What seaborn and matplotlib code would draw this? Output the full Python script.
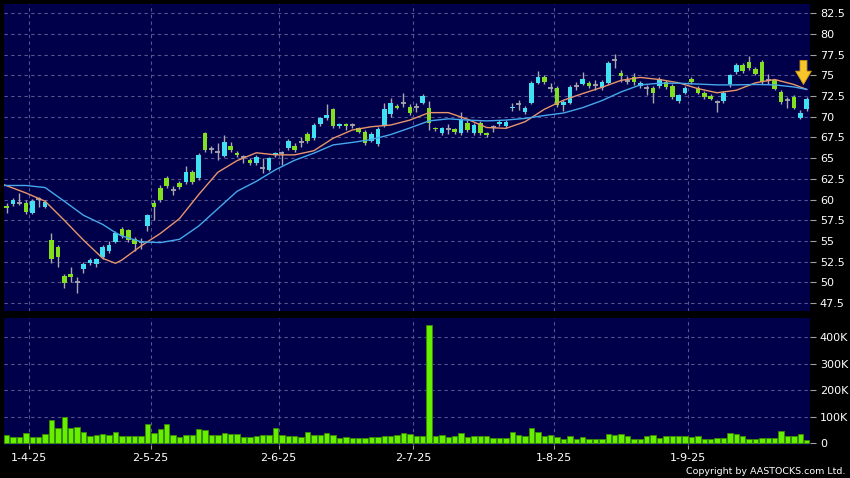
import numpy as np
import pandas as pd
import matplotlib
matplotlib.use('Agg')
import matplotlib.pyplot as plt
import seaborn as sns

# HK trading days shown on the chart
holidays = ['2025-04-04', '2025-04-18', '2025-04-21', '2025-05-01', '2025-05-05', '2025-07-01']
dates = pd.bdate_range('2025-03-26', '2025-09-25').drop(pd.to_datetime(holidays))

opens = [59.2, 59.5, 59.6, 59.6, 58.4, 60.1, 59.1, 55.1, 54.3, 50.75,
         51.0, 50.05, 51.6, 52.35, 52.2, 53.05, 53.8, 54.85, 56.45, 56.3,
         55.2, 54.9, 56.8, 59.6, 61.4, 62.6, 61.15, 62.0, 62.1, 63.3,
         62.6, 68.0, 66.1, 65.7, 65.3, 66.5, 65.6, 65.1, 64.8, 64.4,
         63.8, 63.55, 65.4, 65.6, 66.25, 66.5, 66.95, 67.9, 67.45, 69.1,
         69.8, 70.9, 68.9, 69.1, 69.0, 68.65, 68.2, 67.1, 66.7, 69.0,
         70.3, 71.3, 71.7, 71.2, 71.2, 71.7, 71.05, 68.6, 68.0, 68.5,
         68.5, 68.0, 69.25, 68.0, 69.25, 68.0, 68.75, 69.1, 68.9, 71.05,
         71.6, 70.55, 71.7, 74.1, 74.8, 73.5, 73.5, 71.4, 71.7, 73.7,
         74.0, 74.1, 73.8, 73.5, 74.1, 76.9, 75.3, 74.3, 74.8, 73.7,
         73.5, 73.5, 73.7, 74.2, 73.7, 71.9, 72.9, 74.55, 73.5, 72.9,
         72.5, 71.8, 71.9, 74.0, 75.4, 76.3, 76.6, 75.8, 76.6, 74.4,
         74.4, 73.0, 72.0, 72.4, 69.9, 70.9]
highs = [59.6, 60.2, 60.8, 60.0, 60.1, 60.3, 59.9, 55.95, 54.5, 51.0,
         51.85, 50.65, 52.5, 52.9, 53.0, 54.5, 55.0, 56.2, 56.7, 56.5,
         55.5, 55.35, 58.3, 60.0, 61.7, 62.9, 61.65, 62.3, 64.0, 63.6,
         65.6, 68.2, 66.5, 66.85, 67.8, 66.9, 65.9, 65.4, 65.0, 65.4,
         65.0, 65.2, 65.8, 65.9, 67.3, 66.8, 67.5, 68.2, 69.2, 70.0,
         71.6, 71.1, 69.3, 69.3, 69.3, 68.8, 68.4, 68.1, 68.8, 71.7,
         72.3, 71.6, 72.9, 71.5, 71.7, 72.8, 71.9, 68.8, 68.8, 69.1,
         68.7, 70.6, 69.6, 69.2, 69.5, 68.2, 69.0, 69.6, 69.6, 71.7,
         72.0, 71.3, 74.3, 75.5, 75.0, 74.1, 73.7, 72.0, 73.8, 74.2,
         75.4, 74.3, 74.4, 74.4, 76.7, 77.6, 75.7, 74.9, 75.3, 74.3,
         73.8, 73.7, 74.8, 74.4, 73.9, 72.8, 73.7, 74.8, 73.7, 73.1,
         72.7, 72.0, 73.1, 75.2, 76.5, 76.5, 77.3, 76.0, 76.8, 75.2,
         74.6, 73.2, 72.4, 72.6, 70.8, 72.4]
lows = [58.4, 59.2, 59.3, 58.3, 58.2, 59.1, 59.0, 52.3, 51.85, 49.3,
        50.05, 48.7, 51.1, 52.1, 51.9, 52.8, 53.6, 54.7, 55.4, 54.9,
        53.8, 54.0, 56.2, 57.5, 59.7, 61.4, 60.55, 61.3, 61.9, 61.9,
        62.4, 65.8, 65.6, 64.8, 65.1, 65.8, 65.1, 64.4, 64.2, 64.2,
        63.2, 63.4, 65.2, 64.2, 66.0, 65.8, 66.3, 66.8, 67.2, 68.9,
        69.6, 68.7, 68.7, 68.4, 68.7, 68.0, 66.6, 66.9, 66.5, 68.8,
        70.0, 70.9, 71.2, 70.2, 70.6, 71.5, 68.4, 68.3, 67.8, 67.9,
        67.9, 67.8, 68.2, 67.8, 67.8, 67.55, 68.1, 68.9, 68.7, 70.7,
        70.8, 70.3, 71.5, 73.9, 74.0, 73.0, 71.2, 70.7, 71.5, 73.2,
        73.8, 73.5, 73.2, 73.2, 73.9, 75.9, 74.2, 73.95, 73.8, 73.5,
        72.6, 71.7, 73.5, 73.4, 72.2, 71.7, 72.7, 74.0, 72.7, 72.2,
        72.0, 70.6, 71.7, 73.6, 75.2, 75.3, 75.7, 75.0, 74.0, 73.95,
        73.2, 71.6, 71.1, 70.9, 69.7, 70.7]
closes = [59.0, 59.95, 59.6, 58.5, 59.8, 60.1, 59.7, 52.8, 53.05, 49.9,
          50.65, 50.05, 52.2, 52.7, 52.8, 54.25, 54.5, 55.95, 55.6, 55.1,
          54.6, 54.9, 58.1, 59.1, 59.95, 61.6, 61.15, 61.5, 63.3, 62.1,
          65.4, 66.0, 66.1, 65.7, 66.95, 66.0, 65.4, 65.1, 64.4, 65.2,
          63.8, 65.0, 65.6, 65.6, 67.05, 66.0, 66.95, 67.1, 69.0, 69.8,
          70.2, 68.9, 69.1, 68.9, 69.0, 68.2, 66.85, 67.9, 68.5, 70.9,
          71.7, 71.1, 71.7, 70.5, 71.2, 72.5, 69.25, 68.5, 68.6, 68.5,
          68.15, 69.6, 68.4, 69.0, 68.0, 67.8, 68.75, 69.4, 69.4, 71.2,
          71.6, 71.1, 74.1, 74.8, 74.2, 73.5, 71.4, 71.8, 73.6, 73.7,
          74.6, 73.7, 73.8, 74.2, 76.5, 76.9, 74.9, 74.3, 74.2, 74.1,
          73.5, 72.9, 74.6, 73.6, 72.4, 72.6, 73.5, 74.2, 72.9, 72.4,
          72.2, 71.8, 72.9, 75.0, 76.3, 75.5, 75.9, 75.2, 74.2, 74.4,
          73.4, 71.8, 72.0, 71.1, 70.5, 72.2]
volume_k = [31, 24, 24, 40, 24, 22, 35, 88, 56, 99,
            59, 60, 42, 29, 31, 36, 32, 41, 29, 29,
            29, 29, 72, 40, 55, 72, 33, 24, 33, 33,
            55, 51, 31, 33, 40, 36, 36, 23, 22, 26,
            31, 31, 58, 33, 28, 28, 23, 41, 33, 32,
            37, 32, 19, 24, 21, 19, 19, 22, 22, 29,
            29, 32, 38, 36, 27, 27, 446, 29, 32, 22,
            26, 40, 24, 26, 26, 26, 19, 21, 21, 44,
            33, 26, 56, 42, 26, 33, 23, 17, 26, 18,
            24, 15, 15, 15, 36, 31, 35, 27, 18, 18,
            26, 31, 21, 27, 27, 27, 27, 22, 28, 18,
            15, 19, 19, 40, 36, 28, 17, 17, 21, 19,
            21, 46, 28, 27, 36, 14]

# moving averages at these day indices
ma_idx = [-0.45, 3, 6, 9, 12, 15, 17, 18, 21, 24, 27, 30, 33, 36, 39, 42, 45,
          48, 51, 54, 57, 60, 63, 66, 69, 72, 75, 78, 81, 84, 87, 90, 93,
          96, 99, 102, 105, 108, 111, 114, 117, 120, 123, 125]
ma_fast = [61.8, 60.8, 59.8, 57.5, 55.1, 52.9, 52.3, 52.7, 54.4, 55.9, 57.7,
           60.6, 63.3, 64.7, 65.65, 65.4, 65.4, 65.9, 67.4, 68.4, 68.8, 69.0,
           69.6, 70.5, 70.5, 69.7, 68.7, 68.6, 69.4, 70.9, 72.0, 72.8, 73.55,
           74.4, 74.75, 74.5, 74.1, 73.4, 72.9, 73.2, 74.1, 74.5, 73.9, 73.3]
ma_slow = [61.7, 61.7, 61.45, 59.8, 58.1, 57.0, 56.0, 55.6, 54.9, 54.8, 55.2,
           56.8, 58.9, 61.0, 62.2, 63.6, 64.75, 65.6, 66.6, 66.9, 67.25, 67.85,
           68.65, 69.5, 69.75, 69.6, 69.5, 69.6, 69.8, 70.15, 70.45, 71.1,
           71.95, 73.0, 73.85, 74.05, 74.05, 73.95, 73.85, 73.85, 73.9, 73.85,
           73.6, 73.3]

BG = '#00004A'
UP = '#40E0F0'
DOWN = '#80E020'
WICK = '#A8A8B0'
GRID = '#55558F'
VOL = '#66F000'

x = np.arange(len(dates))
o, h, l, c = (np.array(a) for a in (opens, highs, lows, closes))

first_idx = [i for i in range(1, len(dates)) if dates[i].month != dates[i - 1].month]
tick_pos = [i - 0.5 for i in first_idx]
tick_lab = [f"{dates[i].day}-{dates[i].month}-{dates[i]:%y}" for i in first_idx]

fig = plt.figure(figsize=(8.5, 4.78), dpi=100, facecolor='black')
ax = fig.add_axes([0.00447, 0.34833, 0.94871, 0.64331], facecolor=BG)
vax = fig.add_axes([0.00447, 0.06904, 0.94871, 0.26569], facecolor=BG)

# candles
ax.vlines(x, l, h, color=WICK, lw=1, zorder=2)
up = c > o
dn = c < o
flat = c == o
ax.bar(x[up], np.maximum(c[up] - o[up], 0.15), bottom=o[up], width=0.7, color=UP, zorder=3)
ax.bar(x[dn], np.maximum(o[dn] - c[dn], 0.15), bottom=c[dn], width=0.7, color=DOWN, zorder=3)
ax.hlines(o[flat], x[flat] - 0.4, x[flat] + 0.4, color=WICK, lw=1.3, zorder=3)

sns.lineplot(x=ma_idx, y=ma_fast, ax=ax, color='#E8956A', lw=1, zorder=4)
sns.lineplot(x=ma_idx, y=ma_slow, ax=ax, color='#45A8EC', lw=1, zorder=4)

ax.annotate('', xy=(x[-1] - 0.5, ma_slow[-1] + 0.6), xytext=(x[-1] - 0.5, ma_slow[-1] + 3.5),
            arrowprops=dict(arrowstyle='simple,head_width=0.95,head_length=0.8,tail_width=0.42',
                            fc='#F8C62A', ec='#C89412', lw=0.6, shrinkA=0, shrinkB=0,
                            mutation_scale=12), zorder=6)

# volume
sns.barplot(x=x, y=volume_k, ax=vax, native_scale=True, color=VOL, errorbar=None,
            width=0.85, edgecolor='#3A8C00', linewidth=0.6, saturation=1, zorder=3)

for a in (ax, vax):
    a.set_xlim(-0.45, len(dates) - 0.45)
    a.set_xticks(tick_pos)
    a.grid(True, color=GRID, ls=(0, (3, 3)), lw=0.8, zorder=0)
    a.set_axisbelow(True)
    for s in a.spines.values():
        s.set_visible(False)
    a.yaxis.tick_right()
    a.tick_params(axis='y', colors='#A0A0A0', labelcolor='white', length=4, pad=3, labelsize=8)
    a.set_xlabel('')
    a.set_ylabel('')

ax.set_ylim(46.48, 83.62)
yt = np.arange(47.5, 83, 2.5)
ax.set_yticks(yt)
ax.set_yticklabels([f'{v:g}' for v in yt])
ax.tick_params(axis='x', length=0, labelbottom=False)

vax.set_ylim(-6.4, 472.8)
vt = [0, 100, 200, 300, 400]
vax.set_yticks(vt)
vax.set_yticklabels(['0'] + [f'{v}K' for v in vt[1:]])
vax.set_xticklabels(tick_lab)
vax.tick_params(axis='x', colors='#A0A0A0', labelcolor='white', length=3, pad=3, labelsize=8)

fig.text(0.995, 0.0146, 'Copyright by AASTOCKS.com Ltd.', color='white', fontsize=6.8,
         ha='right', va='center')

fig.savefig('out.png', dpi=100, facecolor='black')
